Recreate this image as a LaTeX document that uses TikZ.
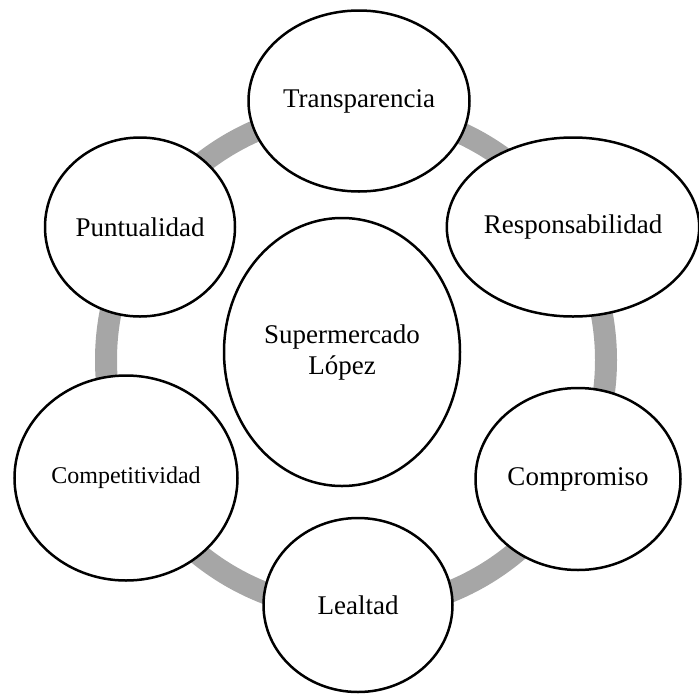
\documentclass[tikz,border=0pt]{standalone}
\usepackage{fontspec}
\setmainfont{Liberation Serif}
\usetikzlibrary{shapes.geometric}
\definecolor{ringgray}{RGB}{166,166,166}
\tikzset{
  bubble/.style={ellipse, draw=black, line width=2.5pt, fill=white, inner sep=0pt,
    align=center, font=\fontsize{27}{31}\selectfont},
  ringline/.style={draw=ringgray, line width=22pt}
}
\begin{document}
\begin{tikzpicture}[x=1pt,y=-1pt]
\useasboundingbox (0,0) rectangle (699,694);
\coordinate (ringc) at (356,360);
\draw[ringline] (ringc) circle[radius=250];
\node[bubble, minimum width=236pt, minimum height=268pt] (center) at (342,352) {Supermercado\\López};
\node[bubble, minimum width=221pt, minimum height=181pt] (transp) at (359,101) {Transparencia};
\node[bubble, minimum width=248pt, minimum height=179pt] (resp) at (573,227) {Responsabilidad};
\node[bubble, minimum width=190pt, minimum height=179pt] (punt) at (140,227) {Puntualidad};
\node[bubble, minimum width=223pt, minimum height=205pt, font=\fontsize{24}{28}\selectfont] (comp) at (126,478) {Competitividad};
\node[bubble, minimum width=189pt, minimum height=174pt] (leal) at (358,605) {Lealtad};
\node[bubble, minimum width=205pt, minimum height=182pt] (compr) at (578,479) {Compromiso};
\end{tikzpicture}
\end{document}
